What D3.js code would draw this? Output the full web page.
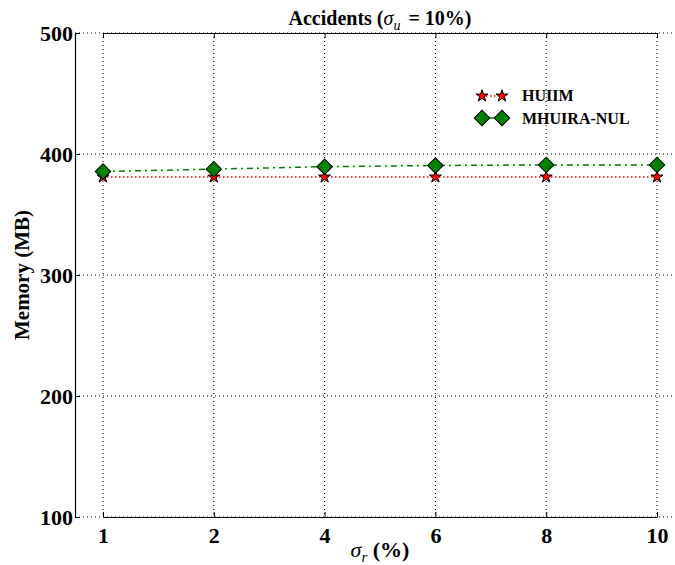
<!DOCTYPE html>
<html>
<head>
<meta charset="utf-8">
<script src="https://cdn.jsdelivr.net/npm/d3@7"></script>
<style>
body { margin: 0; background: #fff; }
text { font-family: "Liberation Serif", "Times New Roman", serif; font-weight: bold; }
</style>
</head>
<body>
<svg width="675" height="565"></svg>
<script>
var svg = d3.select('svg');

var xLabels = ['1', '2', '4', '6', '8', '10'];
var huiim = [381, 381, 381, 381, 381, 381];
var mhuira = [385.5, 387.5, 389.5, 390.5, 391, 391];
var yTicks = [100, 200, 300, 400, 500];

var margin = { top: 33, left: 75 };
var w = 610, h = 484;

var x = d3.scalePoint().domain(xLabels).range([28, 582]);
var y = d3.scaleLinear().domain([100, 500]).range([h, 0]);

var g = svg.append('g').attr('transform', 'translate(' + margin.left + ',' + margin.top + ')');

// grid
g.selectAll('.vgrid').data(xLabels).enter().append('line')
    .attr('x1', function (d) { return x(d); }).attr('x2', function (d) { return x(d); })
    .attr('y1', 0).attr('y2', h)
    .attr('stroke', '#000').attr('stroke-width', 1).attr('stroke-dasharray', '1,3');
g.selectAll('.hgrid').data(yTicks).enter().append('line')
    .attr('x1', 0).attr('x2', w)
    .attr('y1', function (d) { return y(d); }).attr('y2', function (d) { return y(d); })
    .attr('stroke', '#000').attr('stroke-width', 1).attr('stroke-dasharray', '1,3');

// axes
var xAxis = g.append('g').attr('transform', 'translate(0,' + h + ')')
    .call(d3.axisBottom(x).tickSizeInner(-5).tickSizeOuter(0).tickPadding(10));
var xTop = g.append('g').call(d3.axisTop(x).tickSizeInner(-5).tickSizeOuter(0).tickFormat(''));
var yAxis = g.append('g').call(d3.axisLeft(y).tickValues(yTicks).tickSizeInner(-5).tickSizeOuter(0).tickPadding(2));
[xAxis, xTop, yAxis].forEach(function (a) {
    a.select('.domain').attr('stroke', '#000').attr('stroke-width', 1.2);
    a.selectAll('text').style('font-size', '22px').attr('fill', '#000');
});
g.append('line').attr('x1', w).attr('x2', w).attr('y1', 0).attr('y2', h).attr('stroke', '#000');

// lines
var line = function (vals) {
    return d3.line().x(function (d, i) { return x(xLabels[i]); }).y(function (d) { return y(d); })(vals);
};
g.append('path').attr('d', line(huiim)).attr('fill', 'none')
    .attr('stroke', 'red').attr('stroke-width', 1.5).attr('stroke-dasharray', '1.5,2.5');
g.append('path').attr('d', line(mhuira)).attr('fill', 'none')
    .attr('stroke', 'green').attr('stroke-width', 1.5).attr('stroke-dasharray', '6,4,2,4');

var star = d3.symbol().type(d3.symbolStar).size(45);
var diamond = d3.symbol().type(d3.symbolSquare).size(120);

g.selectAll('.star').data(huiim).enter().append('path')
    .attr('d', star)
    .attr('transform', function (d, i) { return 'translate(' + x(xLabels[i]) + ',' + y(d) + ')'; })
    .attr('fill', 'red').attr('stroke', '#000').attr('stroke-width', 1);
g.selectAll('.dia').data(mhuira).enter().append('path')
    .attr('d', diamond)
    .attr('transform', function (d, i) { return 'translate(' + x(xLabels[i]) + ',' + y(d) + ') rotate(45)'; })
    .attr('fill', 'green').attr('stroke', '#000').attr('stroke-width', 1);

// legend
var lg = svg.append('g');
lg.append('line').attr('x1', 482).attr('x2', 502).attr('y1', 96).attr('y2', 96)
    .attr('stroke', 'red').attr('stroke-width', 1.5).attr('stroke-dasharray', '1.5,2.5');
[482, 502].forEach(function (cx) {
    lg.append('path').attr('d', star).attr('transform', 'translate(' + cx + ',96)')
        .attr('fill', 'red').attr('stroke', '#000');
    lg.append('path').attr('d', diamond).attr('transform', 'translate(' + cx + ',118) rotate(45)')
        .attr('fill', 'green').attr('stroke', '#000');
});
lg.append('line').attr('x1', 490).attr('x2', 494).attr('y1', 118).attr('y2', 118)
    .attr('stroke', 'green').attr('stroke-width', 1.5);
lg.append('text').attr('x', 522).attr('y', 101).style('font-size', '16px').text('HUIIM');
lg.append('text').attr('x', 522).attr('y', 124).style('font-size', '16px').text('MHUIRA-NUL');

// title
var t = svg.append('text').attr('x', 380).attr('y', 25).attr('text-anchor', 'middle').style('font-size', '20px');
t.append('tspan').text('Accidents (');
t.append('tspan').style('font-style', 'italic').style('font-weight', 'normal').text('σ');
t.append('tspan').style('font-style', 'italic').style('font-weight', 'normal').style('font-size', '14px').attr('dy', 5).text('u');
t.append('tspan').attr('dy', -5).attr('dx', 8).text('= 10%)');

// axis labels
var xl = svg.append('text').attr('x', 380).attr('y', 557).attr('text-anchor', 'middle').style('font-size', '22px');
xl.append('tspan').style('font-style', 'italic').style('font-weight', 'normal').text('σ');
xl.append('tspan').style('font-style', 'italic').style('font-weight', 'normal').style('font-size', '15px').attr('dy', 5).text('r');
xl.append('tspan').attr('dy', -5).text(' (%)');

svg.append('text').attr('transform', 'translate(29,275) rotate(-90)').attr('text-anchor', 'middle')
    .style('font-size', '21px').text('Memory (MB)');
</script>
</body>
</html>
